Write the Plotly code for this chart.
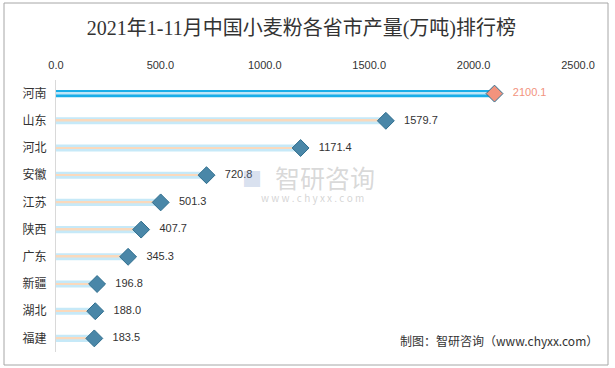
import plotly.graph_objects as go

provinces = ["河南", "山东", "河北", "安徽", "江苏", "陕西", "广东", "新疆", "湖北", "福建"]
values = [2100.1, 1579.7, 1171.4, 720.8, 501.3, 407.7, 345.3, 196.8, 188.0, 183.5]
x_ticks = [0, 500, 1000, 1500, 2000, 2500]

bar_colors = ["#1AAEE8"] + ["#C6E9F8"] * (len(values) - 1)
line_colors = ["#BFE6F7"] + ["#FAD9BC"] * (len(values) - 1)
marker_colors = ["#F2937D"] + ["#4A87A8"] * (len(values) - 1)
label_colors = ["#F2937D"] + ["#333333"] * (len(values) - 1)

fig = go.Figure()
fig.add_trace(go.Bar(
    y=provinces, x=values, orientation="h", width=0.26,
    marker=dict(color=bar_colors, line=dict(width=0)),
    hoverinfo="skip", showlegend=False,
))
fig.add_trace(go.Bar(
    y=provinces, x=values, orientation="h", width=0.06,
    marker=dict(color=line_colors, line=dict(width=0)),
    hoverinfo="skip", showlegend=False,
))
fig.add_trace(go.Scatter(
    y=provinces, x=values, mode="markers+text",
    marker=dict(symbol="diamond", size=13, color=marker_colors,
                line=dict(color="#2F6E8E", width=1)),
    text=[f"   {v:.1f}" for v in values], textposition="middle right",
    textfont=dict(size=11, color=label_colors, family="Liberation Sans, Arial, sans-serif"),
    showlegend=False, cliponaxis=False,
))

n = len(provinces)
fig.update_layout(
    width=615, height=368,
    margin=dict(l=56, r=37, t=80, b=16),
    paper_bgcolor="white", plot_bgcolor="white",
    barmode="overlay",
    font=dict(family="Noto Sans CJK SC, sans-serif", color="#333333"),
    title=dict(text="2021年1-11月中国小麦粉各省市产量(万吨)排行榜",
               x=0.49, xanchor="center", y=0.925, yanchor="middle",
               font=dict(size=20, color="#333333",
                         family="Liberation Serif, Noto Sans CJK SC, serif")),
    xaxis=dict(side="top", range=[0, 2500], tickvals=x_ticks,
               ticktext=[f"{t:.1f}" for t in x_ticks], automargin=False,
               showgrid=False, zeroline=False, showline=False, ticks="",
               ticklabelstandoff=8,
               tickfont=dict(size=11, color="#333333", family="Liberation Sans, Arial, sans-serif")),
    yaxis=dict(range=[n - 0.5, -0.5], showgrid=False, showline=True, automargin=False,
               linecolor="#D9D9D9", linewidth=1, ticks="", ticklabelstandoff=6,
               tickfont=dict(size=12, color="#333333")),
    shapes=[dict(type="rect", xref="paper", yref="paper",
                 x0=(4 - 56) / 522, x1=(608 - 56) / 522,
                 y0=(352 - 365) / 272, y1=(352 - 3) / 272,
                 line=dict(color="#A6A6A6", width=1))],
    annotations=[
        dict(text="智研咨询", xref="paper", yref="paper",
             x=(325 - 56) / 522, y=(352 - 177) / 272, showarrow=False,
             font=dict(size=25, color="rgba(170,170,170,0.45)")),
        dict(text="w w w . c h y x x . c o m", xref="paper", yref="paper",
             x=(312 - 56) / 522, y=(352 - 197) / 272, showarrow=False,
             font=dict(size=10, color="rgba(170,170,170,0.5)")),
        dict(text="■", xref="paper", yref="paper",
             x=(252 - 56) / 522, y=(352 - 178) / 272, showarrow=False,
             font=dict(size=20, color="rgba(120,150,200,0.3)")),
        dict(text="制图：智研咨询（www.chyxx.com）", xref="paper", yref="paper",
             x=(600 - 56) / 522, xanchor="right", y=(352 - 351) / 272, showarrow=False,
             font=dict(size=12, color="#333333")),
    ],
)

fig.write_html("out.html", config={"displayModeBar": False},
               post_script="document.body.style.margin='0';document.body.style.overflow='hidden';")
